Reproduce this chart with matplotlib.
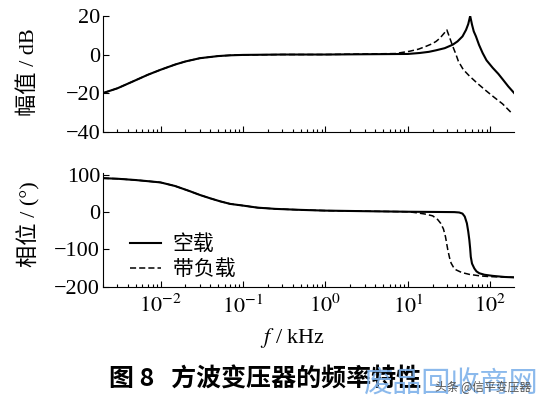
import matplotlib
matplotlib.use("Agg")
import matplotlib.pyplot as plt
import numpy as np

plt.rcParams['font.family'] = ['Liberation Serif', 'Noto Sans CJK SC', 'DejaVu Sans']
plt.rcParams['mathtext.fontset'] = 'stix'

# frequency in kHz
f_mag_open = [0.002, 0.003, 0.005, 0.007, 0.01, 0.015, 0.02, 0.03, 0.05, 0.07, 0.1, 0.3,
              1, 10, 13.9, 18, 22, 28, 35, 40, 46, 50.8, 54, 57,
              60, 63, 67, 73, 80.7, 90, 107, 125, 141, 165, 195]
mag_open = [-20, -17.5, -13.3, -10.5, -7.9, -5.2, -3.6, -1.9, -0.8, -0.4, -0.2, 0,
            0, 0.3, 0.8, 1.4, 2.2, 3.3, 5.1, 6.8, 9.4, 12.8, 15.8, 20,
            15.5, 12, 9.4, 5, 0.8, -3, -6.9, -10, -12.8, -16.5, -20]

f_mag_load = [0.002, 0.003, 0.005, 0.007, 0.01, 0.015, 0.02, 0.03, 0.05, 0.07, 0.1, 0.3,
              1, 7, 10.5, 13.5, 16.7, 19.5, 22, 24.5, 26.6, 28.5, 29.7,
              32, 35, 38, 41, 47, 55.7, 70, 89, 110, 141, 186]
mag_load = [-20, -17.5, -13.3, -10.5, -7.9, -5.2, -3.6, -1.9, -0.8, -0.4, -0.2, 0,
            0, 0.5, 1.7, 2.8, 4.3, 5.5, 6.8, 8.5, 10.3, 11.8, 12.8,
            9, 4.3, 0.5, -3.5, -7.8, -11.1, -15, -18.8, -22, -25.6, -30.8]

f_ph_open = [0.002, 0.003, 0.005, 0.007, 0.01, 0.015, 0.0224, 0.03, 0.04, 0.053, 0.07,
             0.1, 0.15, 0.245, 0.5, 1, 3, 10, 20, 36.7, 42, 46, 49, 52, 54, 55.7, 57,
             58, 60, 64, 68, 73.6, 85, 107, 150, 195]
ph_open = [91, 89.5, 86, 83, 79.6, 70, 56.5, 46, 37, 28.8, 22,
           17.5, 12, 8.7, 6, 4, 2.5, 1, 0.5, 0, -1, -4, -12, -30, -52, -75, -98,
           -120, -138, -151, -159, -164, -168, -171, -174, -175]

f_ph_load = [0.002, 0.003, 0.005, 0.007, 0.01, 0.015, 0.0224, 0.03, 0.04, 0.053, 0.07,
             0.1, 0.15, 0.245, 0.5, 1, 3, 10, 12, 16, 20, 23, 25, 27, 28.6, 30.5, 32,
             33.5, 36, 38.5, 45, 55.7, 75, 97, 195]
ph_load = [91, 89.5, 86, 83, 79.6, 70, 56.5, 46, 37, 28.8, 22,
           17.5, 12, 8.7, 6, 4, 2.5, 1, -1, -5, -10, -20, -30, -45, -66, -101, -122,
           -137, -149, -155, -162, -167, -171, -173, -175]

labels = ['空载', '带负载']
title = '图 8   方波变压器的频率特性'

fig = plt.figure(figsize=(5.39, 3.99), dpi=100)
ax1 = fig.add_axes([0.191, 0.670, 0.763, 0.290])
ax2 = fig.add_axes([0.191, 0.2815, 0.763, 0.285])

ax1.plot(f_mag_open, mag_open, color='black', lw=1.5)
ax1.plot(f_mag_load, mag_load, color='black', lw=1.1, ls=(0, (4, 2)))
ax2.plot(f_ph_open, ph_open, color='black', lw=1.5, label=labels[0])
ax2.plot(f_ph_load, ph_load, color='black', lw=1.1, ls=(0, (4, 2)), label=labels[1])

for ax in (ax1, ax2):
    ax.set_xscale('log')
    ax.set_xlim(0.002, 195)
    for s in ('top', 'right'):
        ax.spines[s].set_visible(False)
    ax.tick_params(which='both', direction='in', labelsize=16, pad=2, width=0.8)
    ax.tick_params(which='major', length=4)
    ax.tick_params(which='minor', length=2)
    ax.tick_params(axis='y', which='minor', left=False)

ax1.set_ylim(-40, 20)
ax1.set_yticks([-40, -20, 0, 20])
ax1.tick_params(axis='x', labelbottom=False)

ax2.set_ylim(-200, 105)
ax2.set_yticks([-200, -100, 0, 100])
ax2.set_xticks([0.01, 0.1, 1, 10, 100])
ax2.set_xticklabels([r'$10^{-2}$', r'$10^{-1}$', r'$10^{0}$', r'$10^{1}$', r'$10^{2}$'])
ax2.tick_params(axis='x', which='major', pad=6)

ax2.legend(loc='upper left', bbox_to_anchor=(0.241, 0.41), bbox_transform=fig.transFigure,
           frameon=False, fontsize=15, handlelength=1.5, handletextpad=0.55,
           labelspacing=0.25, borderpad=0, borderaxespad=0)

fig.text(0.054, 0.820, '幅值 / dB', rotation=90, ha='center', va='center', fontsize=16)
fig.text(0.054, 0.438, '相位 / (°)', rotation=90, ha='center', va='center', fontsize=16)
fig.text(0.542, 0.153, r'$f$ / kHz', ha='center', va='center', fontsize=16)
fig.text(0.202, 0.048, title, ha='left', va='center', fontsize=18, fontweight='bold',
         family=['Noto Sans CJK SC', 'DejaVu Sans'])

# watermark
fig.text(1.0, 0.0, '废品回收商网', ha='right', va='bottom', fontsize=21,
         color='#7fb2ea', family=['Noto Sans CJK SC', 'DejaVu Sans'], alpha=0.9)
fig.text(0.985, 0.03, '头条 @信平变压器', ha='right', va='center', fontsize=8.5,
         color='#555555', family=['Noto Sans CJK SC', 'DejaVu Sans'])

fig.savefig('out.png', dpi=100)
